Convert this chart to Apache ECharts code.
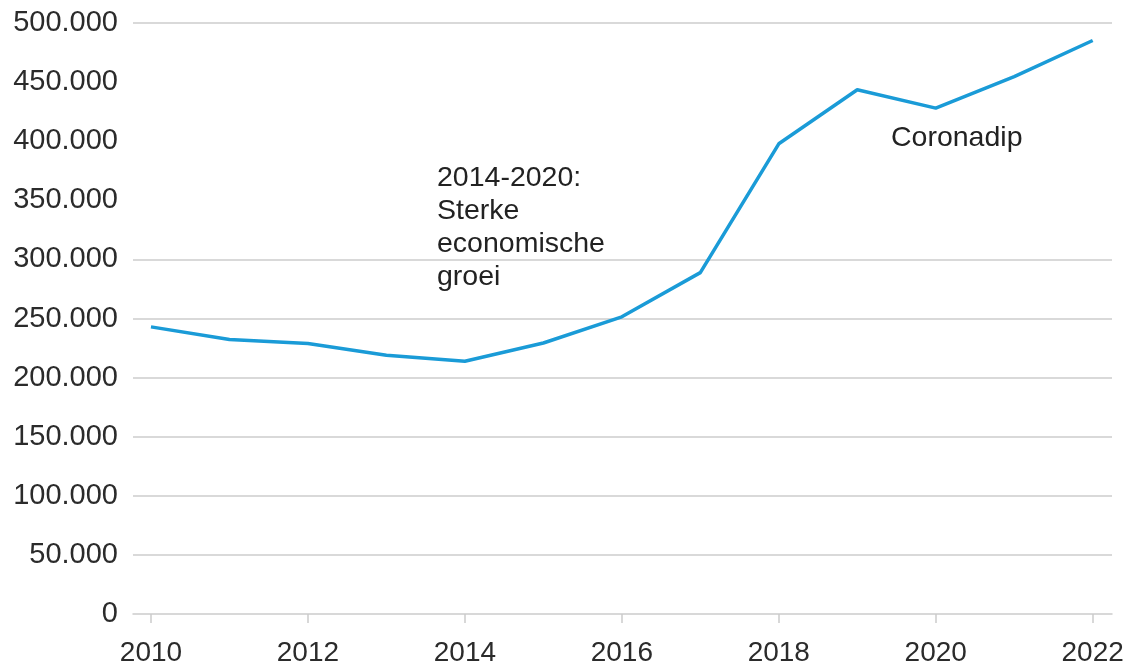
<!DOCTYPE html>
<html>
<head>
<meta charset="utf-8">
<script src="https://cdn.jsdelivr.net/npm/echarts@6/dist/echarts.min.js"></script>
<style>
html,body{margin:0;padding:0;background:#fff;}
#chart{width:1134px;height:668px;}
</style>
</head>
<body>
<div id="chart"></div>
<script>
const years = [2010,2011,2012,2013,2014,2015,2016,2017,2018,2019,2020,2021,2022];
const values = [242900,232200,228800,218900,213800,229300,251400,288800,397800,443500,428000,454700,485200];
const xTickYears = [2010,2012,2014,2016,2018,2020,2022];
// horizontal gridlines shown in the reference (350k, 400k, 450k have none)
const gridLineValues = [50000,100000,150000,200000,250000,300000,500000];
const annotationGrowth = "2014-2020:\nSterke\neconomische\ngroei";
const annotationCorona = "Coronadip";

const chart = echarts.init(document.getElementById('chart'), null, {renderer:'canvas'});
const fontFam = '"Liberation Sans", Arial, sans-serif';
const gridColor = '#cccccc';
chart.setOption({
  animation:false,
  grid:{left:133,right:22,top:23,bottom:54,containLabel:false},
  xAxis:{
    type:'value',
    min:2009.771,
    max:2022.246,
    splitLine:{show:false},
    axisLine:{show:true,lineStyle:{color:gridColor,width:1.5}},
    axisTick:{show:true,customValues:xTickYears,length:9,lineStyle:{color:gridColor,width:1.5}},
    axisLabel:{customValues:xTickYears,margin:25,fontSize:28,color:'#2b2b2b',fontFamily:fontFam,
      formatter:v=>String(v)}
  },
  yAxis:{
    type:'value',
    min:0,max:500000,interval:50000,
    axisLine:{show:false},
    axisTick:{show:false},
    splitLine:{show:false},
    axisLabel:{margin:15,fontSize:29,color:'#2b2b2b',fontFamily:fontFam,
      formatter:v=>v===0?'0':(v/1000)+'.000'}
  },
  series:[{
    type:'line',
    data:years.map((y,i)=>[y,values[i]]),
    symbol:'none',
    lineStyle:{color:'#1a9bd7',width:3.5},
    z:3,
    markLine:{
      silent:true,
      symbol:['none','none'],
      label:{show:false},
      lineStyle:{color:gridColor,width:1.5,type:'solid'},
      z:1,
      data:gridLineValues.map(v=>({yAxis:v}))
    }
  }],
  graphic:[
    {type:'text',left:437,top:162,style:{text:annotationGrowth,fontSize:28.5,lineHeight:33,fill:'#222',fontFamily:fontFam}},
    {type:'text',left:891,top:122,style:{text:annotationCorona,fontSize:28.5,lineHeight:33,fill:'#222',fontFamily:fontFam}}
  ]
});
</script>
</body>
</html>
